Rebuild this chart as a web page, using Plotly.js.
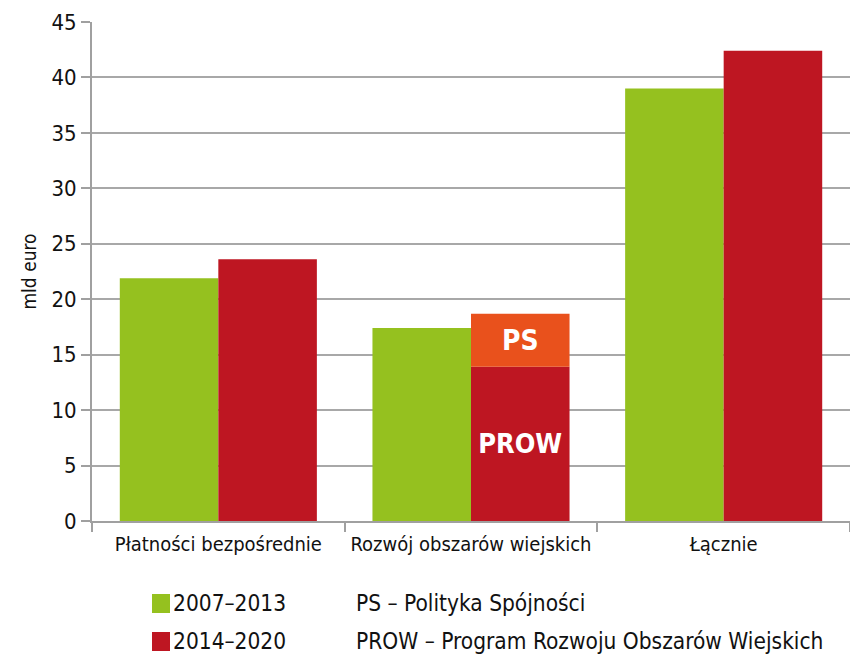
<!DOCTYPE html>
<html>
<head>
<meta charset="utf-8">
<script src="https://cdn.plot.ly/plotly-3.0.1.min.js"></script>
<style>
html,body{margin:0;padding:0;background:#fff;}
#chart text{font-stretch:condensed !important;}
</style>
</head>
<body>
<div id="chart" style="width:850px;height:656px;"></div>
<script>
const categories = ['Płatności bezpośrednie', 'Rozwój obszarów wiejskich', 'Łącznie'];
const values2007 = [21.9, 17.4, 39.0];
const values2014 = [23.6, 13.9, 42.4];
const valuesPS = [null, 4.8, null];
const labels2014 = ['', 'PROW', ''];
const labelsPS = ['', 'PS', ''];
const seriesNames = ['2007–2013', '2014–2020'];
const noteTexts = ['PS – Polityka Spójności', 'PROW – Program Rozwoju Obszarów Wiejskich'];
const yTitle = 'mld euro';

const FONT = 'DejaVu Sans Condensed, DejaVu Sans, sans-serif';
const GREEN = '#95c11f', RED = '#be1622', ORANGE = '#e9511c';

const traces = [
  {type:'bar', x:categories, y:values2007, name:seriesNames[0], marker:{color:GREEN}, offsetgroup:'a', hoverinfo:'none'},
  {type:'bar', x:categories, y:values2014, name:seriesNames[1], marker:{color:RED}, offsetgroup:'b',
   text:labels2014, textposition:'inside', insidetextanchor:'middle', constraintext:'none', textangle:0,
   textfont:{family:FONT, size:27, color:'#fff', weight:'bold'}, hoverinfo:'none'},
  {type:'bar', x:categories, y:valuesPS, base:values2014, name:'PS', marker:{color:ORANGE}, offsetgroup:'b',
   text:labelsPS, textposition:'inside', insidetextanchor:'middle', constraintext:'none', textangle:0,
   textfont:{family:FONT, size:28, color:'#fff', weight:'bold'}, hoverinfo:'none'}
];

function px2x(p){ return (p-92)/758; }
function px2y(p){ return (521-p)/499; }

const shapes = [
  {type:'rect', xref:'paper', yref:'paper', x0:px2x(152), x1:px2x(170), y0:px2y(594), y1:px2y(613), fillcolor:GREEN, line:{width:0}},
  {type:'rect', xref:'paper', yref:'paper', x0:px2x(152), x1:px2x(170), y0:px2y(632), y1:px2y(651), fillcolor:RED, line:{width:0}}
];
const annFont = {family:FONT, size:22.5, color:'#111'};
const annotations = [
  {xref:'paper', yref:'paper', x:px2x(171), y:px2y(603), xanchor:'left', yanchor:'middle', text:seriesNames[0], showarrow:false, font:annFont},
  {xref:'paper', yref:'paper', x:px2x(171), y:px2y(641), xanchor:'left', yanchor:'middle', text:seriesNames[1], showarrow:false, font:annFont},
  {xref:'paper', yref:'paper', x:px2x(354), y:px2y(603), xanchor:'left', yanchor:'middle', text:noteTexts[0], showarrow:false, font:annFont},
  {xref:'paper', yref:'paper', x:px2x(354), y:px2y(641), xanchor:'left', yanchor:'middle', text:noteTexts[1], showarrow:false, font:annFont}
];

const layout = {
  width:850, height:656,
  margin:{l:92, r:0, t:22, b:135},
  paper_bgcolor:'#fff', plot_bgcolor:'#fff',
  barmode:'group', bargap:0.22, bargroupgap:0,
  showlegend:false,
  font:{family:FONT, size:20, color:'#111'},
  xaxis:{type:'category', showline:true, linecolor:'#a0a0a0', linewidth:2,
    ticks:'outside', tickson:'boundaries', ticklen:9, tickcolor:'#a0a0a0', tickwidth:2, tickangle:0,
    ticklabelstandoff:4,
    tickfont:{family:FONT, size:20, color:'#111'}, showgrid:false, fixedrange:true},
  yaxis:{range:[0,45], dtick:5, showline:true, linecolor:'#a0a0a0', linewidth:2,
    ticks:'outside', ticklen:9, tickcolor:'#a0a0a0', tickwidth:2,
    showgrid:true, gridcolor:'#a8a8a8', gridwidth:2, zeroline:false,
    tickfont:{family:FONT, size:22, color:'#111'},
    title:{text:yTitle, font:{family:FONT, size:19, color:'#111'}, standoff:10}, fixedrange:true},
  shapes:shapes, annotations:annotations
};

Plotly.newPlot('chart', traces, layout, {displayModeBar:false, staticPlot:true});
</script>
</body>
</html>
